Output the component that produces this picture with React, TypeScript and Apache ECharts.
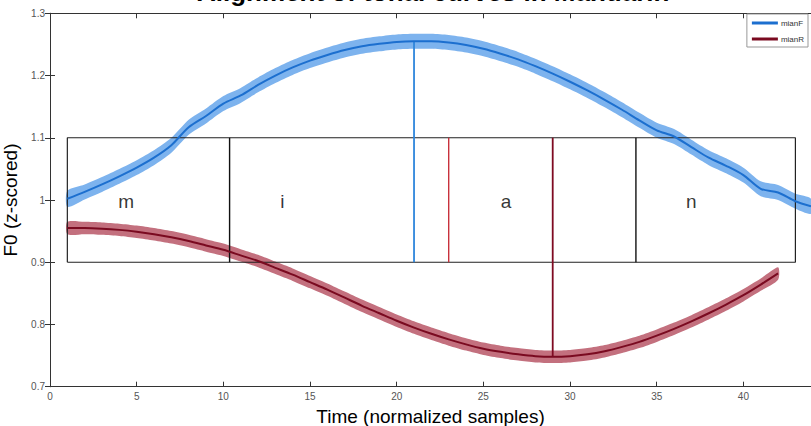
import React, { useEffect, useRef } from "react";
import * as echarts from "echarts";

// ---- data ----
const blueX = [1, 2, 3, 4, 5, 6, 7, 8, 9, 10, 11, 12, 13, 14, 15, 16, 17, 18, 19, 20, 21, 22, 23, 24, 25, 26, 27, 28, 29, 30, 31, 32, 33, 34, 35, 36, 37, 38, 39, 40, 41, 42, 43, 43.9];
const mianF = [1.002, 1.013, 1.025, 1.038, 1.052, 1.068, 1.088, 1.117, 1.135, 1.155, 1.168, 1.185, 1.2, 1.213, 1.224, 1.233, 1.241, 1.247, 1.251, 1.254, 1.255, 1.255, 1.253, 1.249, 1.243, 1.235, 1.226, 1.215, 1.203, 1.19, 1.176, 1.161, 1.145, 1.128, 1.112, 1.102, 1.085, 1.068, 1.055, 1.04, 1.018, 1.012, 0.998, 0.99];
const mianFSE = [0.013, 0.012, 0.012, 0.012, 0.012, 0.012, 0.012, 0.012, 0.012, 0.012, 0.012, 0.012, 0.012, 0.012, 0.012, 0.012, 0.012, 0.012, 0.012, 0.012, 0.012, 0.012, 0.012, 0.012, 0.012, 0.012, 0.012, 0.012, 0.012, 0.012, 0.012, 0.012, 0.012, 0.012, 0.012, 0.012, 0.012, 0.012, 0.012, 0.012, 0.012, 0.012, 0.012, 0.012];

const redX = [1, 2, 3, 4, 5, 6, 7, 8, 9, 10, 11, 12, 13, 14, 15, 16, 17, 18, 19, 20, 21, 22, 23, 24, 25, 26, 27, 28, 29, 30, 31, 32, 33, 34, 35, 36, 37, 38, 39, 40, 41, 42];
const mianR = [0.955, 0.955, 0.954, 0.952, 0.949, 0.945, 0.94, 0.934, 0.927, 0.92, 0.911, 0.902, 0.891, 0.88, 0.868, 0.856, 0.843, 0.83, 0.818, 0.806, 0.795, 0.785, 0.776, 0.768, 0.761, 0.756, 0.752, 0.749, 0.748, 0.749, 0.752, 0.757, 0.764, 0.772, 0.782, 0.793, 0.805, 0.818, 0.832, 0.847, 0.864, 0.882];
const mianRSE = [0.01, 0.01, 0.01, 0.01, 0.01, 0.01, 0.01, 0.01, 0.01, 0.01, 0.01, 0.01, 0.01, 0.01, 0.01, 0.01, 0.01, 0.01, 0.01, 0.01, 0.01, 0.01, 0.01, 0.01, 0.01, 0.01, 0.01, 0.01, 0.01, 0.01, 0.01, 0.01, 0.01, 0.01, 0.01, 0.01, 0.01, 0.01, 0.01, 0.01, 0.01, 0.01];

// segment box and boundaries
const boxX = [1, 43];
const boxY = [0.9, 1.1];
const segBounds = [10.36, 33.8];
const segLabels = ["m", "i", "a", "n"];
const segLabelX = [4.4, 13.4, 26.3, 37.0];
const segLabelY = 0.998;
const peakF = [21, 1.255];
const troughR = [29, 0.748];
const redMarkX = 23;

const xTicks = [0, 5, 10, 15, 20, 25, 30, 35, 40];
const FONT = "Liberation Sans, Arial, sans-serif";

function bandPolygon(xs: number[], ys: number[], se: number[]) {
  const upper = xs.map((x, i) => [x, ys[i] + se[i]]);
  const lower = xs.map((x, i) => [x, ys[i] - se[i]]).reverse();
  return upper.concat(lower);
}

function bandSeries(poly: number[][], color: string) {
  return {
    type: "custom",
    silent: true,
    z: 1,
    data: [0],
    renderItem: (params: any, api: any) => {
      const pts = poly.map((p) => api.coord(p));
      return {
        type: "polygon",
        shape: { points: pts, smooth: 0.25 },
        style: { fill: color, stroke: "none" },
      };
    },
  };
}

function seg(points: number[][], color: string, width: number, z = 3) {
  return {
    type: "line",
    data: points,
    symbol: "none",
    silent: true,
    z,
    lineStyle: { color, width },
  };
}

export default function App() {
  const ref = useRef<HTMLDivElement>(null);
  useEffect(() => {
    document.body.style.margin = "0";
    const chart = echarts.init(ref.current!, undefined, { renderer: "svg" });
    const axisCommon = {
      type: "value",
      axisLine: { show: true, lineStyle: { color: "#333", width: 1 } },
      axisTick: { show: true, inside: true, length: 5, lineStyle: { color: "#333" } },
      splitLine: { show: false },
    };
    chart.setOption({
      animation: false,
      backgroundColor: "#fff",
      title: {
        text: "Alignment of tonal curves in Mandarin",
        left: 192,
        top: -26,
        textStyle: { fontFamily: FONT, fontSize: 26, fontWeight: "bold", color: "#000" },
      },
      legend: {
        data: ["mianF", "mianR"],
        orient: "vertical",
        right: 3,
        top: 14,
        backgroundColor: "#fff",
        borderColor: "#999",
        borderWidth: 1,
        borderRadius: 0,
        padding: [5, 4, 4, 5],
        itemGap: 8,
        itemWidth: 26,
        itemHeight: 3,
        icon: "rect",
        textStyle: { fontFamily: FONT, fontSize: 8, color: "#333", padding: [0, 0, 0, -2] },
      },
      grid: { left: 50, top: 13.3, right: 0, bottom: 39.3, containLabel: false, outerBoundsMode: "none" },
      xAxis: [
        {
          ...axisCommon,
          position: "bottom",
          min: 0,
          max: 43.9,
          interval: 5,
          name: "Time (normalized samples)",
          nameLocation: "middle",
          nameGap: 14,
          nameTextStyle: { fontFamily: FONT, fontSize: 19, color: "#000" },
          axisLabel: {
            fontFamily: FONT,
            fontSize: 10,
            color: "#555",
            margin: 5,
            formatter: (v: number) => (xTicks.indexOf(v) >= 0 ? String(v) : ""),
          },
        },
        {
          ...axisCommon,
          position: "top",
          min: 0,
          max: 43.9,
          interval: 5,
          axisLabel: { show: false },
        },
      ],
      yAxis: [
        {
          ...axisCommon,
          position: "left",
          min: 0.7,
          max: 1.3,
          interval: 0.1,
          name: "F0 (z-scored)",
          nameLocation: "middle",
          nameGap: 18,
          nameTextStyle: { fontFamily: FONT, fontSize: 19, color: "#000" },
          axisLabel: { fontFamily: FONT, fontSize: 10, color: "#555", margin: 5 },
        },
        {
          ...axisCommon,
          position: "right",
          min: 0.7,
          max: 1.3,
          interval: 0.1,
          axisLabel: { show: false },
        },
      ],
      series: [
        bandSeries(bandPolygon(blueX, mianF, mianFSE), "#7db3ee"),
        bandSeries(bandPolygon(redX, mianR, mianRSE), "#c3707e"),
        seg(
          [
            [boxX[0], boxY[0]],
            [boxX[1], boxY[0]],
            [boxX[1], boxY[1]],
            [boxX[0], boxY[1]],
            [boxX[0], boxY[0]],
          ],
          "#222",
          1.2,
          2
        ),
        seg([[segBounds[0], boxY[0]], [segBounds[0], boxY[1]]], "#111", 1.4, 2),
        seg([[segBounds[1], boxY[0]], [segBounds[1], boxY[1]]], "#111", 1.4, 2),
        seg([[peakF[0], boxY[0]], [peakF[0], peakF[1]]], "#2f86dc", 1.8, 4),
        seg([[redMarkX, boxY[0]], [redMarkX, boxY[1]]], "#c8323c", 1.4, 4),
        seg([[troughR[0], boxY[1]], [troughR[0], troughR[1]]], "#7f0b22", 1.8, 4),
        {
          name: "mianF",
          type: "line",
          data: blueX.map((x, i) => [x, mianF[i]]),
          smooth: 0.3,
          symbol: "none",
          z: 5,
          color: "#1c6fcf",
          lineStyle: { color: "#1c6fcf", width: 2 },
        },
        {
          name: "mianR",
          type: "line",
          data: redX.map((x, i) => [x, mianR[i]]),
          smooth: 0.3,
          symbol: "none",
          z: 5,
          color: "#7a0a20",
          lineStyle: { color: "#7a0a20", width: 2 },
        },
        {
          type: "scatter",
          symbolSize: 0,
          silent: true,
          z: 6,
          data: segLabelX.map((x, i) => ({ value: [x, segLabelY], name: segLabels[i] })),
          label: {
            show: true,
            position: "inside",
            formatter: (p: any) => p.name,
            fontFamily: FONT,
            fontSize: 19,
            color: "#000",
          },
        },
      ],
    });
    return () => chart.dispose();
  }, []);
  return <div ref={ref} style={{ width: 811, height: 426 }} />;
}
